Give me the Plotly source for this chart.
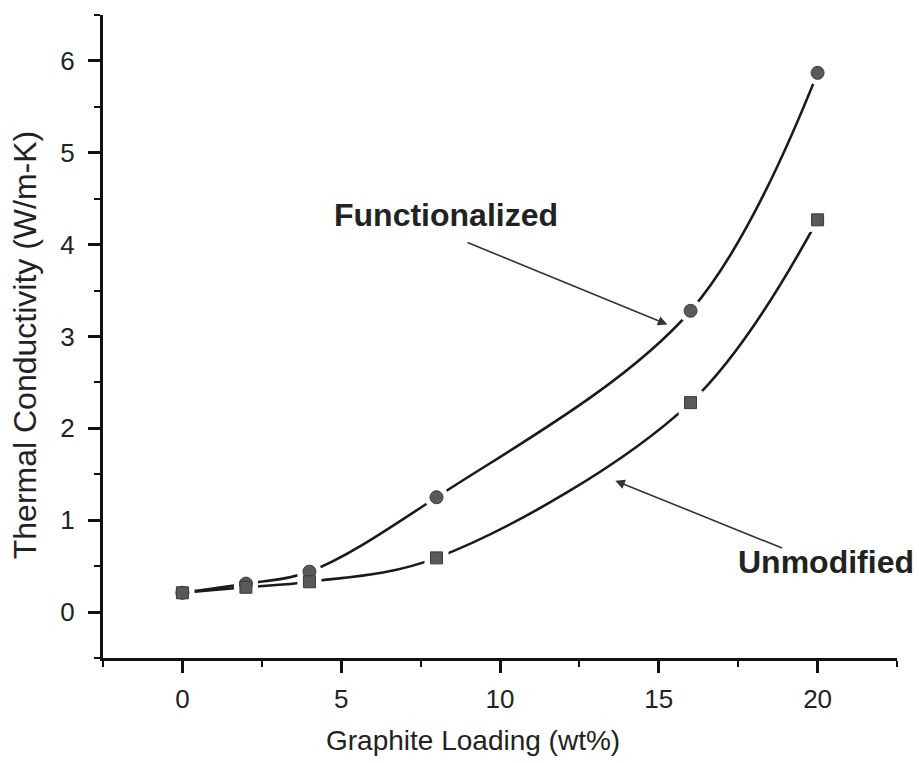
import plotly.graph_objects as go

loading = [0, 2, 4, 8, 16, 20]
functionalized = [0.21, 0.31, 0.44, 1.25, 3.28, 5.87]
unmodified = [0.21, 0.27, 0.33, 0.59, 2.28, 4.27]

x_ticks = [0, 5, 10, 15, 20]
y_ticks = [0, 1, 2, 3, 4, 5, 6]

FONT = "Liberation Sans, Arial, sans-serif"
MARK = "#595959"
LINE = "#1a1a1a"
TXT = "#222"

fig = go.Figure()

for ys in (functionalized, unmodified):
    fig.add_trace(go.Scatter(x=loading, y=ys, mode="lines",
                             line=dict(color=LINE, width=2.6, shape="spline", smoothing=1.0),
                             hoverinfo="skip", showlegend=False))

for ys, sym in ((functionalized, "circle"), (unmodified, "square")):
    fig.add_trace(go.Scatter(x=loading, y=ys, mode="markers",
                             marker=dict(symbol=sym, size=24, color="white"),
                             hoverinfo="skip", showlegend=False))
for ys, sym, sz in ((functionalized, "circle", 13), (unmodified, "square", 12)):
    fig.add_trace(go.Scatter(x=loading, y=ys, mode="markers",
                             marker=dict(symbol=sym, size=sz, color=MARK,
                                         line=dict(color="#3a3a3a", width=1)),
                             showlegend=False))

axis_common = dict(showline=True, linecolor="#111", linewidth=3, ticks="outside",
                   tickwidth=2.5, ticklen=12, tickcolor="#111", showgrid=False,
                   zeroline=False, tickfont=dict(family=FONT, size=26, color=TXT),
                   minor=dict(ticks="outside", ticklen=6, tickwidth=2, tickcolor="#111"))

fig.update_xaxes(range=[-2.5, 22.5], tickvals=x_ticks, ticktext=[str(v) for v in x_ticks],
                 minor_dtick=2.5, minor_tick0=0, ticklabelstandoff=4, **axis_common)
fig.update_yaxes(range=[-0.5, 6.5], tickvals=y_ticks, ticktext=[str(v) for v in y_ticks],
                 minor_dtick=0.5, minor_tick0=0, ticklabelstandoff=8, **axis_common)

fig.add_annotation(x=0.466, y=-0.129, xref="paper", yref="paper", yanchor="middle",
                   text="Graphite Loading (wt%)", showarrow=False,
                   font=dict(family=FONT, size=28, color=TXT))
fig.add_annotation(x=-0.099, y=0.487, xref="paper", yref="paper", xanchor="center",
                   yanchor="middle", textangle=-90,
                   text="Thermal Conductivity (W/m-K)", showarrow=False,
                   font=dict(family=FONT, size=32, color=TXT))

fig.add_annotation(x=15.27, y=3.13, ax=8.93, ay=4.03, axref="x", ayref="y",
                   xref="x", yref="y", text="", showarrow=True, arrowhead=2,
                   arrowsize=1.2, arrowwidth=1.6, arrowcolor="#333")
fig.add_annotation(x=13.63, y=1.43, ax=18.93, ay=0.69, axref="x", ayref="y",
                   xref="x", yref="y", text="", showarrow=True, arrowhead=2,
                   arrowsize=1.2, arrowwidth=1.6, arrowcolor="#333")
fig.add_annotation(x=8.3, y=4.32, xref="x", yref="y", text="<b>Functionalized</b>",
                   showarrow=False, font=dict(family=FONT, size=32, color=TXT))
fig.add_annotation(x=20.25, y=0.54, xref="x", yref="y", text="<b>Unmodified</b>",
                   showarrow=False, font=dict(family=FONT, size=32, color=TXT))

fig.update_layout(width=919, height=763, margin=dict(l=103, r=22, t=15, b=105),
                  paper_bgcolor="white", plot_bgcolor="white", showlegend=False)

fig.write_html("out.html")
